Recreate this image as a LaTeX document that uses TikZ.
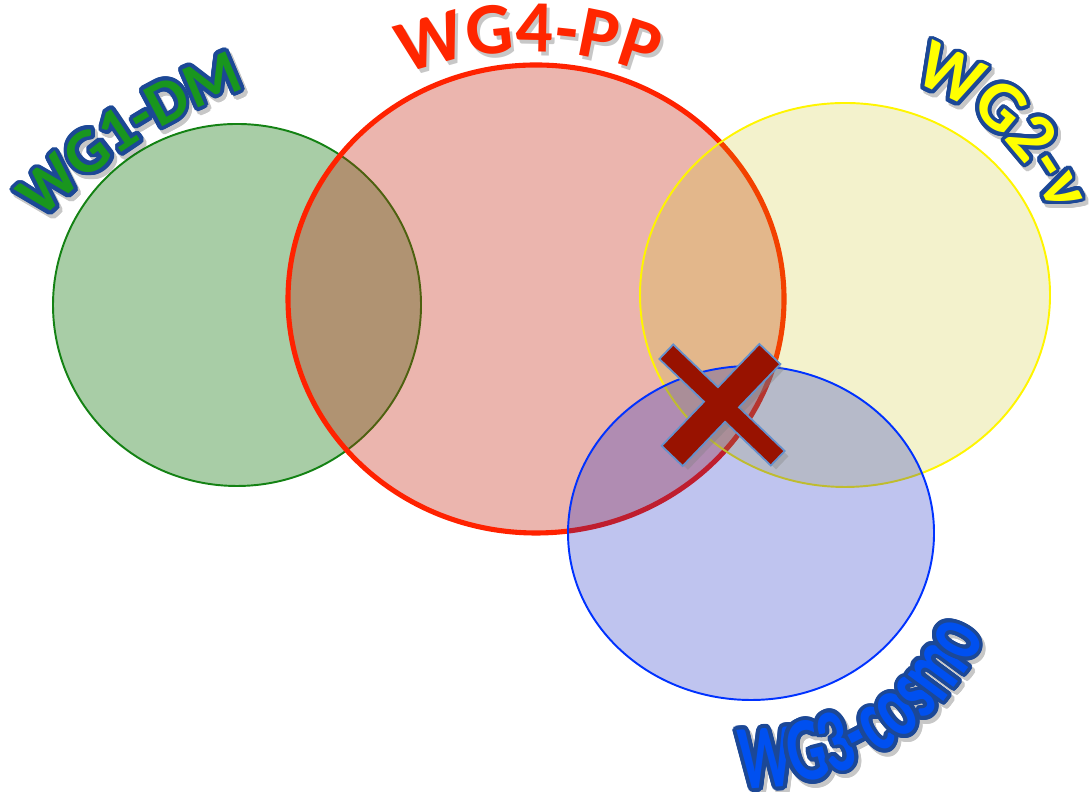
\documentclass[tikz,border=0pt]{standalone}
\usepackage{fontspec}
\usepackage{contour}
\usetikzlibrary{decorations.text, shadows}

\newfontfamily\wgfont{Carlito}
\newfontfamily\cosmofont{Carlito}[FakeStretch=0.66]

% set colours
\definecolor{dmfill}{RGB}{6,112,0}
\definecolor{dmline}{RGB}{20,130,20}
\definecolor{ppfill}{RGB}{194,30,9}
\definecolor{ppline}{RGB}{255,34,0}
\definecolor{nufill}{RGB}{195,190,0}
\definecolor{nuline}{RGB}{255,245,0}
\definecolor{cofill}{RGB}{0,20,190}
\definecolor{coline}{RGB}{0,50,255}
% label colours
\definecolor{dmtext}{RGB}{25,150,30}
\definecolor{pptext}{RGB}{255,38,0}
\definecolor{nutext}{RGB}{255,255,0}
\definecolor{cotext}{RGB}{0,80,240}
\definecolor{rim}{RGB}{28,72,150}
% cross colours
\definecolor{crossfill}{RGB}{152,18,0}
\definecolor{crossrim}{RGB}{100,145,205}

\contourlength{1.1pt}
\contournumber{24}
\newcommand\rimchar[1]{\contour{rim}{#1}}
\newcommand\shadechar[1]{\contour{black}{#1}}

\begin{document}
\begin{tikzpicture}[
    x=0.01cm, y=0.01cm,
    wgset/.style={line width=0.55pt},
    wglabel/.style 2 args={decorate, decoration={text effects along path,
        text={#1}, text align=center,
        text effects/.cd, text along path, #2}},
    bar/.style={rectangle, inner sep=0pt, outer sep=0pt, draw=crossrim, line width=1.1pt,
        drop shadow={opacity=0.35, shadow xshift=1.5pt, shadow yshift=-1.5pt}}
]
    \useasboundingbox (0,0) rectangle (1089,792);

    % Circles
    \filldraw[wgset, fill=dmfill, fill opacity=0.35, draw=dmline] (237,487) ellipse[x radius=184, y radius=181];
    \filldraw[wgset, fill=ppfill, fill opacity=0.33, draw=ppline, line width=1.45pt] (536,493) ellipse[x radius=248, y radius=234];
    \filldraw[wgset, fill=nufill, fill opacity=0.2, draw=nuline] (845,497) ellipse[x radius=205, y radius=192];
    \filldraw[wgset, fill=cofill, fill opacity=0.25, draw=coline] (751,259) ellipse[x radius=183, y radius=167];

    % Label shadows
    \begin{scope}[transparency group, opacity=0.22, shift={(3,-4)}]
    \path[wglabel={WG1-DM}{character command=\shadechar,
        characters={text=black, font=\wgfont\bfseries\fontsize{18}{22}\selectfont}}]
        (426,203) ++(140:532) arc[start angle=140, end angle=106, radius=532];
    \path[wglabel={WG4-PP}{characters={text=black, font=\wgfont\bfseries\fontsize{21}{25}\selectfont}}]
        (528,400) ++(116:340) arc[start angle=116, end angle=64, radius=340];
    \path[wglabel={WG2-ν}{character command=\shadechar,
        characters={text=black, font=\wgfont\bfseries\fontsize{20}{24}\selectfont}}]
        (845,497) ++(107:222) arc[start angle=107, end angle=-13, radius=222];
    \path[wglabel={WG3-cosmo}{character command=\shadechar,
        characters={text=black, font=\cosmofont\bfseries\fontsize{26}{31}\selectfont}}]
        (751,259) ++(-118:255) arc[start angle=-118, end angle=2, radius=255];
    \end{scope}

    % Labels
    \path[wglabel={WG1-DM}{character command=\rimchar,
        characters={text=dmtext, font=\wgfont\bfseries\fontsize{18}{22}\selectfont}}]
        (426,203) ++(140:532) arc[start angle=140, end angle=106, radius=532];
    \path[wglabel={WG4-PP}{characters={text=pptext, font=\wgfont\bfseries\fontsize{21}{25}\selectfont}}]
        (528,400) ++(116:340) arc[start angle=116, end angle=64, radius=340];
    \path[wglabel={WG2-ν}{character command=\rimchar,
        characters={text=nutext, font=\wgfont\bfseries\fontsize{20}{24}\selectfont}}]
        (845,497) ++(107:222) arc[start angle=107, end angle=-13, radius=222];
    \path[wglabel={WG3-cosmo}{character command=\rimchar,
        characters={text=cotext, font=\cosmofont\bfseries\fontsize{26}{31}\selectfont}}]
        (751,259) ++(-118:255) arc[start angle=-118, end angle=2, radius=255];

    % Cross
    \node[bar, rotate=-43.7, minimum width=1.52cm, minimum height=0.18cm] (barA) at (722,387) {};
    \node[bar, rotate=46.2, minimum width=1.39cm, minimum height=0.27cm] (barB) at (721,387) {};
    \fill[crossfill] (barA.north west) -- (barA.north east) -- (barA.south east) -- (barA.south west) -- cycle;
    \fill[crossfill] (barB.north west) -- (barB.north east) -- (barB.south east) -- (barB.south west) -- cycle;
\end{tikzpicture}
\end{document}
